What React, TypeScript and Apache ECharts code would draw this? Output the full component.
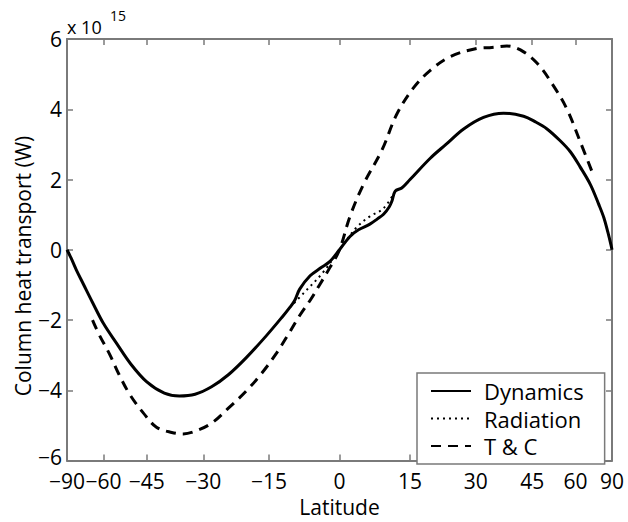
import React, { useEffect, useRef } from "react";
import * as echarts from "echarts";

// Latitude tick labels (axis is linear in sin(latitude))
const latTicks = [-90, -60, -45, -30, -15, 0, 15, 30, 45, 60, 90];
const yTicks = [-6, -4, -2, 0, 2, 4, 6];

// Dynamics (solid), units of 1e15 W
const dynLat = [-90, -80, -75, -70, -65, -60, -55, -50, -45, -40, -36, -32, -28, -24, -20, -15.6, -12, -10.5, -9.5, -8.4, -6.2, -4, -2, 0, 2.2, 4, 6.4, 8, 9.3, 10.5, 11.1, 11.8, 13.2, 15, 19.4, 23, 27.1, 31.9, 37, 42.5, 46, 49.6, 54, 57.9, 62, 67.1, 72, 75.9, 80, 85, 90];
const dynVal = [0, -0.24, -0.57, -0.98, -1.5, -2.1, -2.65, -3.25, -3.76, -4.08, -4.16, -4.11, -3.9, -3.55, -3.07, -2.45, -1.89, -1.64, -1.45, -1.12, -0.74, -0.52, -0.33, 0, 0.38, 0.57, 0.73, 0.88, 1.01, 1.22, 1.39, 1.67, 1.76, 2.0, 2.6, 3.0, 3.44, 3.77, 3.89, 3.8, 3.64, 3.44, 3.11, 2.79, 2.36, 1.85, 1.3, 0.92, 0.5, 0.14, 0];

// Radiation (dotted), tropical part (elsewhere it coincides with Dynamics)
const radLat = [-10.5, -7.4, -3.5, 0, 3.6, 6.4, 9.3, 11.8];
const radVal = [-1.64, -1.21, -0.65, 0, 0.64, 0.95, 1.18, 1.67];

// T & C (dashed)
const tcLat = [-65, -62, -57.4, -54, -50.3, -46, -42.2, -38, -35, -31, -27.7, -24, -20, -16.5, -13.4, -10.8, -8.4, -6, -4.2, -2, 0, 2.2, 5, 9, 12.1, 15.7, 19.4, 24, 30.3, 34, 37.9, 41.6, 46.5, 51.8, 56.6, 62.1, 68.9];
const tcVal = [-2.0, -2.4, -2.99, -3.55, -4.12, -4.65, -5.05, -5.2, -5.24, -5.12, -4.91, -4.5, -4.02, -3.5, -2.95, -2.4, -1.87, -1.4, -1.0, -0.5, 0, 0.95, 1.85, 2.85, 3.85, 4.6, 5.1, 5.5, 5.73, 5.76, 5.8, 5.69, 5.31, 4.66, 4.0, 3.07, 2.1];

const toX = (lat: number) => Math.sin((lat * Math.PI) / 180);
const pts = (lats: number[], vals: number[]) => lats.map((l, i) => [toX(l), vals[i]]);
const minus = (s: string) => s.replace("-", "\u2212");

const FONT = "Open Sans";
const GRAY = "#7a7a7a";

export default function App() {
  const ref = useRef<HTMLDivElement>(null);
  useEffect(() => {
    const chart = echarts.init(ref.current!, null, { renderer: "svg" });
    const tickVals = latTicks.map(toX);
    const axisCommon = {
      axisLine: { show: true, onZero: false, lineStyle: { color: GRAY, width: 2 } },
      splitLine: { show: false },
    };
    chart.setOption({
      animation: false,
      backgroundColor: "#fff",
      textStyle: { fontFamily: FONT },
      grid: { left: 67, right: 16, top: 39, bottom: 55 },
      xAxis: [
        {
          type: "value",
          min: -1,
          max: 1,
          position: "bottom",
          ...axisCommon,
          axisTick: { show: true, inside: true, length: 6, customValues: tickVals, lineStyle: { color: GRAY, width: 1.5 } },
          axisLabel: {
            customValues: tickVals,
            showMinLabel: true,
            showMaxLabel: true,
            hideOverlap: false,
            margin: 13,
            lineHeight: 14,
            color: "#000",
            fontFamily: FONT,
            fontSize: 21,
            formatter: (v: number) => minus(String(Math.round((Math.asin(Math.max(-1, Math.min(1, v))) * 180) / Math.PI))),
          },
          name: "Latitude",
          nameLocation: "middle",
          nameGap: 30,
          nameTextStyle: { color: "#000", fontFamily: FONT, fontSize: 21 },
        },
        {
          type: "value",
          min: -1,
          max: 1,
          position: "top",
          ...axisCommon,
          axisTick: { show: true, inside: true, length: 6, customValues: tickVals, lineStyle: { color: GRAY, width: 1.5 } },
          axisLabel: { show: false },
        },
      ],
      yAxis: [
        {
          type: "value",
          min: -6,
          max: 6,
          interval: 2,
          position: "left",
          ...axisCommon,
          axisTick: { show: true, inside: true, length: 6, lineStyle: { color: GRAY, width: 1.5 } },
          axisLabel: {
            margin: 5,
            lineHeight: 14,
            color: "#000",
            fontFamily: FONT,
            fontSize: 21,
            formatter: (v: number) => (v === yTicks[0] ? "{lo|" + minus(String(v)) + "}" : minus(String(v))),
            rich: { lo: { fontFamily: FONT, fontSize: 21, lineHeight: 14, color: "#000", padding: [0, 0, 8, 0] } },
          },
        },
        {
          type: "value",
          min: -6,
          max: 6,
          interval: 2,
          position: "right",
          ...axisCommon,
          axisTick: { show: true, inside: true, length: 6, lineStyle: { color: GRAY, width: 1.5 } },
          axisLabel: { show: false },
        },
      ],
      legend: {
        show: true,
        orient: "vertical",
        left: 417,
        top: 373,
        backgroundColor: "#fff",
        borderColor: GRAY,
        borderWidth: 1.5,
        borderRadius: 0,
        padding: [7, 21, 7, 13],
        itemWidth: 40,
        itemHeight: 14,
        itemGap: 5.5,
        itemStyle: { opacity: 0 },
        textStyle: { color: "#000", fontFamily: FONT, fontSize: 22, lineHeight: 20, padding: [0, 0, 0, 8] },
        data: ["Dynamics", "Radiation", "T & C"],
      },
      graphic: [
        { type: "text", left: 67, top: 18, style: { text: "x 10", fontFamily: FONT, fontSize: 18, fill: "#000" } },
        { type: "text", left: 110, top: 8, style: { text: "15", fontFamily: FONT, fontSize: 14, fill: "#000" } },
        {
          type: "text",
          x: 23,
          y: 266,
          rotation: Math.PI / 2,
          style: { text: "Column heat transport (W)", fontFamily: FONT, fontSize: 21, fill: "#000", align: "center", verticalAlign: "middle" },
        },
      ],
      series: [
        {
          name: "Radiation",
          type: "line",
          data: pts(radLat, radVal),
          symbol: "none",
          smooth: 0.35,
          z: 1,
          lineStyle: { color: "#000", width: 2, type: [2, 4] },
          itemStyle: { color: "#000" },
        },
        {
          name: "Dynamics",
          type: "line",
          data: pts(dynLat, dynVal),
          symbol: "none",
          smooth: 0.35,
          z: 3,
          lineStyle: { color: "#000", width: 3, type: "solid" },
          itemStyle: { color: "#000" },
        },
        {
          name: "T & C",
          type: "line",
          data: pts(tcLat, tcVal),
          symbol: "none",
          smooth: 0.35,
          z: 2,
          lineStyle: { color: "#000", width: 3, type: [10, 7] },
          itemStyle: { color: "#000" },
        },
      ],
    });
    return () => chart.dispose();
  }, []);
  return <div ref={ref} style={{ position: "fixed", left: 0, top: 0, width: 628, height: 522 }} />;
}
